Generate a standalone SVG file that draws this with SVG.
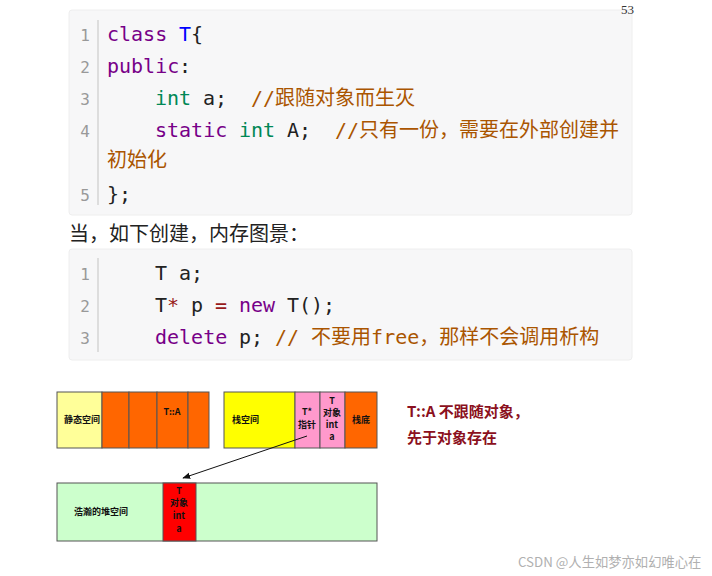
<svg xmlns="http://www.w3.org/2000/svg" width="712" height="576" viewBox="0 0 712 576">
<defs>
<style>
.code{font-family:"DejaVu Sans Mono","Noto Sans CJK SC",monospace;font-size:20px;}
.ln{font-family:"DejaVu Sans Mono",monospace;font-size:16px;fill:#999;text-anchor:middle;}
.kw{fill:#770088;}
.ty{fill:#008855;}
.df{fill:#0000ff;}
.cm{fill:#aa5500;}
.op{fill:#981a1a;}
.tx{fill:#222;}
.cell{stroke:#555;stroke-width:1;}
.lbl{font-family:"Noto Sans CJK SC","DejaVu Sans",sans-serif;font-size:9px;font-weight:bold;fill:#111;}
.lblc{font-family:"Noto Sans CJK SC","DejaVu Sans",sans-serif;font-size:9px;font-weight:bold;fill:#111;text-anchor:middle;}
.note{font-family:"Noto Sans CJK SC","Liberation Sans",sans-serif;font-size:15px;font-weight:bold;fill:#8b1020;}
</style>
<marker id="ah" viewBox="0 0 10 10" refX="9" refY="5" markerWidth="8" markerHeight="8" orient="auto" markerUnits="userSpaceOnUse">
<path d="M0,1 L10,5 L0,9 z" fill="#111"/>
</marker>
</defs>
<rect width="712" height="576" fill="#ffffff"/>

<g id="code1">
<rect x="69" y="10" width="563" height="205" rx="3" fill="#f7f7f8" stroke="#eeeeee"/>
<line x1="98" y1="20" x2="98" y2="205" stroke="#dddddd" stroke-width="2"/>
<text class="ln" x="85" y="41">1</text>
<text class="ln" x="85" y="73">2</text>
<text class="ln" x="85" y="105">3</text>
<text class="ln" x="85" y="137">4</text>
<text class="ln" x="85" y="201">5</text>
<text class="code kw" x="107" y="41">class</text>
<text class="code df" x="179" y="41">T</text>
<text class="code tx" x="191" y="41">{</text>
<text class="code kw" x="107" y="73">public</text>
<text class="code tx" x="179" y="73">:</text>
<text class="code ty" x="155" y="105">int</text>
<text class="code tx" x="203" y="105">a;</text>
<text class="code cm" x="251" y="105">//跟随对象而生灭</text>
<text class="code kw" x="155" y="137">static</text>
<text class="code ty" x="239" y="137">int</text>
<text class="code tx" x="287" y="137">A;</text>
<text class="code cm" x="335" y="137">//只有一份，需要在外部创建并</text>
<text class="code cm" x="107" y="167">初始化</text>
<text class="code tx" x="107" y="201">};</text>
</g>

<text x="621" y="14" font-family="Liberation Serif,serif" font-size="13" fill="#333">53</text>

<text x="69" y="241" font-family="Noto Sans CJK SC,sans-serif" font-size="20" fill="#222">当，如下创建，内存图景：</text>

<g id="code2">
<rect x="69" y="249" width="563" height="111" rx="3" fill="#f7f7f8" stroke="#eeeeee"/>
<line x1="98" y1="258" x2="98" y2="352" stroke="#dddddd" stroke-width="2"/>
<text class="ln" x="85" y="280">1</text>
<text class="ln" x="85" y="312">2</text>
<text class="ln" x="85" y="344">3</text>
<text class="code tx" x="155" y="280">T a;</text>
<text class="code tx" x="155" y="312">T</text>
<text class="code op" x="167" y="312">*</text>
<text class="code tx" x="191" y="312">p</text>
<text class="code op" x="215" y="312">=</text>
<text class="code kw" x="239" y="312">new</text>
<text class="code tx" x="287" y="312">T();</text>
<text class="code kw" x="155" y="344">delete</text>
<text class="code tx" x="239" y="344">p;</text>
<text class="code cm" x="275" y="344">// 不要用free，那样不会调用析构</text>
</g>

<g id="static-space">
<rect class="cell" x="57" y="392" width="45" height="56" fill="#ffff99"/>
<rect class="cell" x="102" y="392" width="27" height="56" fill="#ff6600"/>
<rect class="cell" x="129" y="392" width="28" height="56" fill="#ff6600"/>
<rect class="cell" x="157" y="392" width="31" height="56" fill="#ff6600"/>
<rect class="cell" x="188" y="392" width="21" height="56" fill="#ff6600"/>
<text class="lbl" x="64" y="423">静态空间</text>
<text class="lblc" x="172" y="415">T::A</text>
</g>

<g id="stack-space">
<rect class="cell" x="224" y="392" width="71" height="56" fill="#ffff00"/>
<rect class="cell" x="295" y="392" width="25" height="56" fill="#ff99cc"/>
<rect class="cell" x="320" y="392" width="25" height="56" fill="#ff99cc"/>
<rect class="cell" x="345" y="392" width="32" height="56" fill="#ff6600"/>
<text class="lbl" x="232" y="423">栈空间</text>
<text class="lblc" x="307" y="415">T*</text>
<text class="lblc" x="307" y="428">指针</text>
<text class="lblc" x="332" y="404">T</text>
<text class="lblc" x="332" y="416">对象</text>
<text class="lblc" x="332" y="428">int</text>
<text class="lblc" x="332" y="440">a</text>
<text class="lblc" x="361" y="423">栈底</text>
</g>

<g id="heap-space">
<rect class="cell" x="57" y="483" width="320" height="58" fill="#ccffcc"/>
<rect class="cell" x="163" y="483" width="33" height="58" fill="#ff0000"/>
<text class="lbl" x="74" y="515">浩瀚的堆空间</text>
<text class="lblc" x="179" y="494">T</text>
<text class="lblc" x="179" y="506">对象</text>
<text class="lblc" x="179" y="519">int</text>
<text class="lblc" x="179" y="532">a</text>
</g>

<g id="connectors">
<line x1="307" y1="436" x2="183" y2="478" stroke="#111" stroke-width="1" marker-end="url(#ah)"/>
</g>

<g id="note">
<text class="note" x="407" y="417">T::A 不跟随对象，</text>
<text class="note" x="407" y="443">先于对象存在</text>
</g>

<text x="518" y="567" font-family="Noto Sans CJK SC,Liberation Sans,sans-serif" font-size="13.3" fill="#b0b0b0">CSDN @人生如梦亦如幻唯心在</text>
</svg>
